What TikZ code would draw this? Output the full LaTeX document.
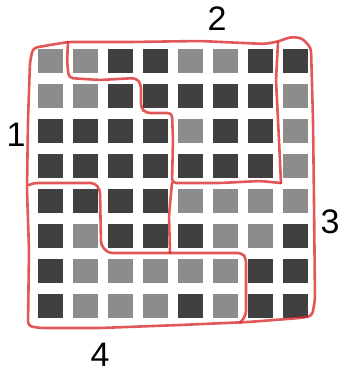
\documentclass[tikz,border=0pt]{standalone}
\usepackage{fontspec}
\newfontfamily\labelfont{Liberation Sans}
\usetikzlibrary{calc}

\definecolor{celld}{HTML}{404040}
\definecolor{cellg}{HTML}{8C8C8C}
\definecolor{penred}{RGB}{218,46,46}

\begin{document}
\begin{tikzpicture}[
	x=1pt, y=-1pt,
	cell/.style={
		rectangle,
		draw=none,
		inner sep=0pt,
		minimum width=25pt,
		minimum height=24pt
	},
	pen/.style={penred, line width=2.6pt, opacity=0.8, rounded corners=4pt, line join=round, line cap=round},
	region/.style={font=\labelfont\fontsize{34}{40}\selectfont, inner sep=0pt},
]
\useasboundingbox (0,0) rectangle (338,373);

\pgfmathsetmacro{\dx}{35}
\pgfmathsetmacro{\dy}{35}
\pgfmathsetmacro{\xo}{50.5}
\pgfmathsetmacro{\yo}{61}

% squares, row by row (d = dark, g = grey)
\foreach \row [count=\r from 0] in {
	{g,g,d,d,g,g,d,d},
	{g,g,d,d,d,d,d,g},
	{d,d,d,d,g,d,d,g},
	{d,d,d,d,d,d,d,g},
	{d,d,d,d,g,g,g,g},
	{d,g,d,d,d,g,g,d},
	{d,g,g,g,g,g,d,d},
	{d,g,g,g,d,g,d,d}} {
	\foreach \c [count=\k from 0] in \row {
		\node[cell, fill=cell\c] (c\r\k) at (\xo+\k*\dx, \yo+\r*\dy) {};
	}
}

% outer outline
\draw[pen] (28,326) -- (29,250) -- (27,190) -- (28,120) -- (30,62) -- (33,48)
	-- (50,45) -- (68,42) -- (130,42) -- (200,41) -- (265,44) -- (280,41)
	-- (290,37) -- (302,38) -- (311,48) -- (313,120) -- (314,200) -- (315,300)
	-- (312,316) -- (300,318) -- (248,322) -- (180,325) -- (100,328) -- (40,328) -- cycle;

% region 2 (inner edge)
\draw[pen] (68,42) -- (67,62) -- (69,78) -- (100,80) -- (136,78) -- (141,84)
	-- (141,108) -- (146,113) -- (172,113) -- (173,140) -- (172,183)
	-- (220,183) -- (260,181) -- (281,183);

% region 3 (left edges)
\draw[pen] (278,42) -- (276,80) -- (279,140) -- (281,183);
\draw[pen] (172,183) -- (169,215) -- (170,253);

% region 4
\draw[pen] (29,185) -- (33,183) -- (95,183) -- (100,190) -- (101,245) -- (108,253)
	-- (170,253) -- (242,253) -- (246,258) -- (246,315) -- (240,323);

% labels
\node[region] (r1) at (16,135) {1};
\node[region] (r2) at (217,19) {2};
\node[region] (r3) at (330,222) {3};
\node[region] (r4) at (100,355) {4};

\end{tikzpicture}
\end{document}
